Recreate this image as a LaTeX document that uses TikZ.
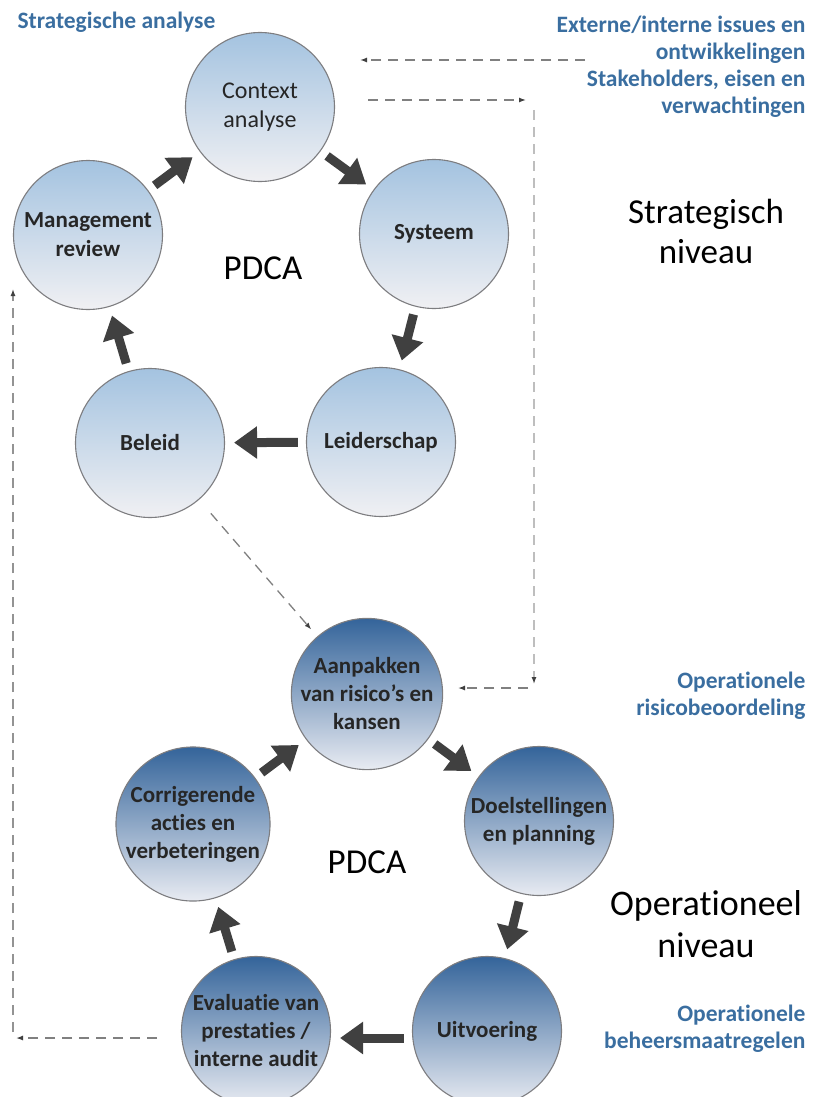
\documentclass[tikz,border=0pt]{standalone}
\usepackage{fontspec}
\setmainfont{Carlito}[Ligatures=NoCommon]
\usepackage{tikz}
\usetikzlibrary{arrows.meta,calc}

\definecolor{stratTop}{RGB}{164,195,224}
\definecolor{stratBottom}{RGB}{240,240,243}
\definecolor{operTop}{RGB}{52,100,154}
\definecolor{operBottom}{RGB}{232,235,242}
\definecolor{rimgray}{RGB}{125,125,128}
\definecolor{fatgray}{RGB}{64,64,64}
\definecolor{capblue}{RGB}{58,110,160}
\definecolor{dashgray}{RGB}{128,128,128}
\definecolor{dashlight}{RGB}{190,190,190}

\begin{document}
\begin{tikzpicture}[x=1pt,y=-1pt]
            \useasboundingbox (0,0) rectangle (812,1097);
            \tikzset{VertexStrat/.style={circle,draw=rimgray,line width=1.1pt,minimum size=149pt,inner sep=0pt,
                align=center,top color=stratTop,bottom color=stratBottom,text=black!85,
                font=\fontsize{23}{29}\selectfont\bfseries}};
            \tikzset{VertexOper/.style={VertexStrat,top color=operTop,bottom color=operBottom,
                font=\fontsize{23}{28}\selectfont\bfseries}};
            \tikzset{EdgeFat/.style={draw=fatgray,line width=9pt,-{Triangle[length=23pt,width=31pt]},
                shorten <=8pt,shorten >=9pt}};
            \tikzset{EdgeDash/.style={draw=dashgray,line width=1.3pt,dash pattern=on 10pt off 7pt,
                -{Latex[length=7pt,width=5pt,color=black!75]}}};
            \tikzset{LabelBlue/.style={text=capblue,align=right,font=\fontsize{23.5}{27}\selectfont\bfseries}};
            \tikzset{LabelBig/.style={align=center,font=\fontsize{35}{40}\selectfont}};

            \node[VertexStrat,font=\fontsize{24}{29}\selectfont] (context) at (260,107) {Context\\analyse};
            \node[VertexStrat] (systeem) at (434,234) {Systeem};
            \node[VertexStrat] (leiderschap) at (381,442) {Leiderschap};
            \node[VertexStrat] (beleid) at (150,443) {Beleid};
            \node[VertexStrat] (review) at (88,235) {Management\\review};

            \node[VertexOper] (aanpakken) at (367,694) {Aanpakken\\van risico’s en\\kansen};
            \node[VertexOper] (doelen) at (539,821) {Doelstellingen\\en planning};
            \node[VertexOper] (uitvoering) at (487,1031) {Uitvoering};
            \node[VertexOper] (evaluatie) at (256,1031) {Evaluatie van\\prestaties /\\interne audit};
            \node[VertexOper] (corrigerend) at (193,824) {Corrigerende\\acties en\\verbeteringen};

            \node[LabelBig] (pdcatop) at (263,268) {PDCA};
            \node[LabelBig] (pdcabottom) at (367,862) {PDCA};
            \node[LabelBig] (strategisch) at (706,231) {Strategisch\\niveau};
            \node[LabelBig,font=\fontsize{36}{42}\selectfont] (operationeel) at (706,924) {Operationeel\\niveau};

            \node[LabelBlue,anchor=west] (analyse) at (14,22) {Strategische analyse};
            \node[LabelBlue,anchor=north east] (issues) at (809,12)
                {Externe/interne issues en\\ontwikkelingen\\Stakeholders, eisen en\\verwachtingen};
            \node[LabelBlue,anchor=east] (risico) at (809,696) {Operationele\\risicobeoordeling};
            \node[LabelBlue,anchor=east] (beheers) at (809,1029) {Operationele\\beheersmaatregelen};

            \draw[EdgeFat] (review) -- (context);
            \draw[EdgeFat] (context) -- (systeem);
            \draw[EdgeFat] (systeem) -- (leiderschap);
            \draw[EdgeFat] (leiderschap) -- (beleid);
            \draw[EdgeFat] (beleid) -- (review);

            \draw[EdgeFat] (corrigerend) -- (aanpakken);
            \draw[EdgeFat] (aanpakken) -- (doelen);
            \draw[EdgeFat] (doelen) -- (uitvoering);
            \draw[EdgeFat] ($(uitvoering.west)+(0,7)$) -- ($(evaluatie.east)+(0,7)$);
            \draw[EdgeFat] (evaluatie) -- (corrigerend);

            \coordinate (inR) at (585,60);
            \coordinate (inL) at (360,60);
            \coordinate (outL) at (368,100);
            \coordinate (outR) at (526,100);
            \coordinate (downT) at (534,110);
            \coordinate (downB) at (534,684);
            \coordinate (backR) at (528,688);
            \coordinate (backL) at (458,688);
            \coordinate (leftR) at (157,1038);
            \coordinate (leftL) at (16,1038);
            \coordinate (upB) at (13,1032);
            \coordinate (upT) at (13,289);

            \draw[EdgeDash] (inR) -- (inL);
            \draw[EdgeDash] (outL) -- (outR);
            \draw[EdgeDash,draw=dashlight] (downT) -- (downB);
            \draw[EdgeDash] (backR) -- (backL);
            \draw[EdgeDash,shorten <=18pt,shorten >=9pt] (beleid) -- (aanpakken);
            \draw[EdgeDash] (leftR) -- (leftL);
            \draw[EdgeDash,draw=dashgray!85] (upB) -- (upT);
\end{tikzpicture}
\end{document}
